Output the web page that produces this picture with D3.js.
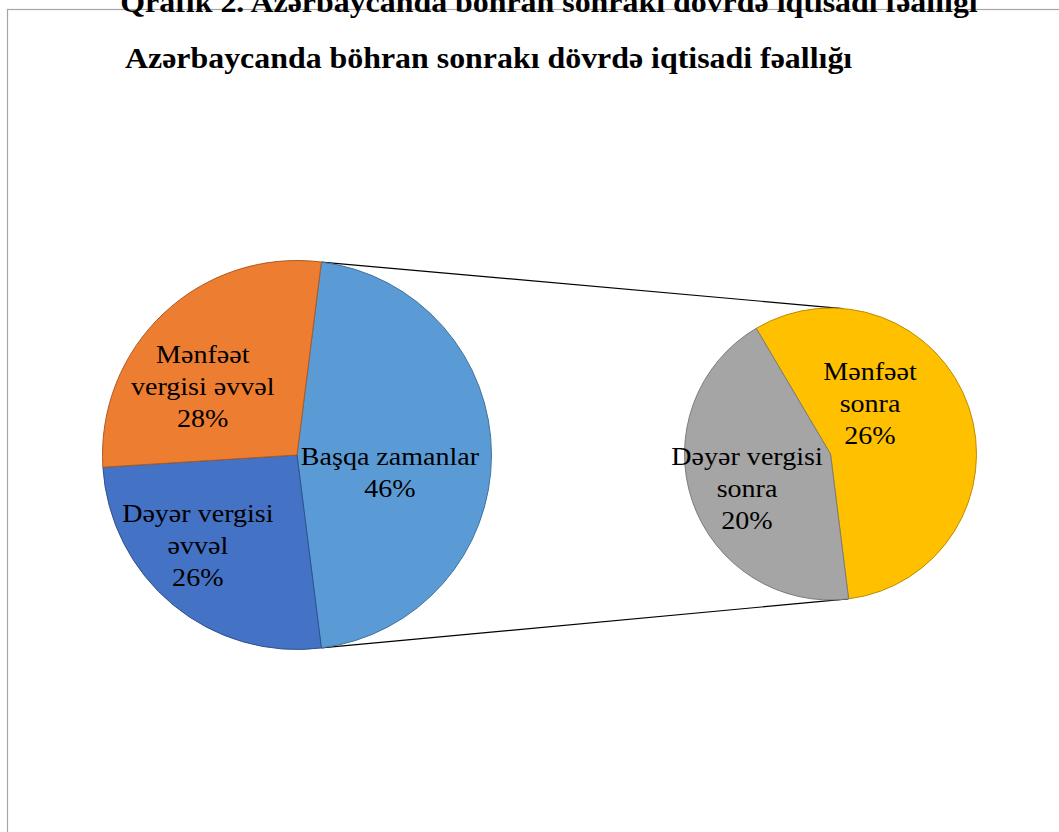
<!DOCTYPE html>
<html>
<head>
<meta charset="utf-8">
<script src="https://cdn.jsdelivr.net/npm/d3@7"></script>
<style>
  html, body { margin: 0; padding: 0; background: #fff; overflow: hidden; }
  svg { display: block; }
</style>
</head>
<body>
<svg id="chart" width="1059" height="832"></svg>
<script>
// ---- Data ----
const headerText = "Qrafik 2. Azərbaycanda böhran sonrakı dövrdə iqtisadi fəallığı";
const titleText = "Azərbaycanda böhran sonrakı dövrdə iqtisadi fəallığı";

const primaryLabels = [["Başqa zamanlar"], ["Dəyər vergisi", "əvvəl"], ["Mənfəət", "vergisi əvvəl"]];
const primaryValues = [46, 26, 28];
const primaryColors = ["#5B9BD5", "#4472C4", "#ED7D31"];
const primaryStroke = ["#41719C", "#2F528F", "#AE5A21"];

const secondaryLabels = [["Mənfəət", "sonra"], ["Dəyər vergisi", "sonra"]];
const secondaryValues = [26, 20];
const secondaryColors = ["#FFC000", "#A5A5A5"];
const secondaryStroke = ["#BC8C00", "#7C7C7C"];

// ---- Layout ----
const svg = d3.select("#chart");
const deg = Math.PI / 180;
const P = { cx: 297, cy: 455, r: 194.5 };
const S = { cx: 830.5, cy: 454, r: 146 };
const FONT = "Liberation Serif, Times New Roman, serif";
const STRETCH = 1.1;

const total = d3.sum(primaryValues);
const otherShare = primaryValues[0] / total;
const pStart = Math.PI / 2 - otherShare * Math.PI;

const pie1 = d3.pie().sort(null).value(d => d).startAngle(pStart).endAngle(pStart + 2 * Math.PI);
const pie2 = d3.pie().sort(null).value(d => d).startAngle(-30.6 * deg).endAngle(-30.6 * deg + 2 * Math.PI);

const arc1 = d3.arc().innerRadius(0).outerRadius(P.r);
const arc2 = d3.arc().innerRadius(0).outerRadius(S.r);
const lab1 = d3.arc().innerRadius(P.r * 0.55).outerRadius(P.r * 0.55);
const lab2 = d3.arc().innerRadius(S.r * 0.55).outerRadius(S.r * 0.55);

const nudge1 = [[-14, 26], [-31, 17], [-21, 18]];
const nudge2 = [[-36.5, -16], [-7.5, 17]];

// border
svg.append("rect").attr("x", 7.5).attr("y", 9.5).attr("width", 1200).attr("height", 1000)
  .attr("fill", "none").attr("stroke", "#a6a6a6").attr("stroke-width", 1.2);

// header (cut off at top, as in the reference)
svg.append("g").attr("transform", `translate(549,12) scale(${STRETCH},1)`)
  .append("text").attr("text-anchor", "middle")
  .attr("font-family", FONT).attr("font-weight", "bold")
  .attr("font-size", 29).attr("fill", "#000").text(headerText);

// title
svg.append("g").attr("transform", `translate(125,68) scale(${STRETCH},1)`)
  .append("text")
  .attr("font-family", FONT).attr("font-weight", "bold")
  .attr("font-size", 29).attr("fill", "#000").text(titleText);

// connector lines
const a1 = pie1(primaryValues)[0];
const pt = (c, r, a) => [c.cx + r * Math.sin(a), c.cy - r * Math.cos(a)];
const conn = [
  [pt(P, P.r, a1.startAngle), pt(S, S.r, 4.9 * deg)],
  [pt(P, P.r, a1.endAngle), pt(S, S.r, 173 * deg)]
];
svg.selectAll("line.conn").data(conn).enter().append("line")
  .attr("x1", d => d[0][0]).attr("y1", d => d[0][1])
  .attr("x2", d => d[1][0]).attr("y2", d => d[1][1])
  .attr("stroke", "#000").attr("stroke-width", 1.2);

// primary pie
const g1 = svg.append("g").attr("transform", `translate(${P.cx},${P.cy})`);
g1.selectAll("path").data(pie1(primaryValues)).enter().append("path")
  .attr("d", arc1).attr("fill", (d, i) => primaryColors[i])
  .attr("stroke", (d, i) => primaryStroke[i]).attr("stroke-width", 1);

// secondary pie
const g2 = svg.append("g").attr("transform", `translate(${S.cx},${S.cy})`);
g2.selectAll("path").data(pie2(secondaryValues)).enter().append("path")
  .attr("d", arc2).attr("fill", (d, i) => secondaryColors[i])
  .attr("stroke", (d, i) => secondaryStroke[i]).attr("stroke-width", 1);

// labels
const lineH = 32;
function drawLabels(g, arcs, lab, labels, nudge, totalForPct) {
  arcs.forEach((d, i) => {
    const c = lab.centroid(d);
    const x = c[0] + nudge[i][0], y = c[1] + nudge[i][1];
    const lines = labels[i].concat([Math.round(d.data / totalForPct * 100) + "%"]);
    const t = g.append("g").attr("transform", `translate(${x},${y}) scale(${STRETCH},1)`)
      .append("text").attr("text-anchor", "middle")
      .attr("font-family", FONT)
      .attr("font-size", 25.5).attr("fill", "#000");
    lines.forEach((s, k) => {
      t.append("tspan").attr("x", 0).attr("y", (k - (lines.length - 1) / 2) * lineH).text(s);
    });
  });
}
drawLabels(g1, pie1(primaryValues), lab1, primaryLabels, nudge1, total);
drawLabels(g2, pie2(secondaryValues), lab2, secondaryLabels, nudge2, total);
</script>
</body>
</html>
